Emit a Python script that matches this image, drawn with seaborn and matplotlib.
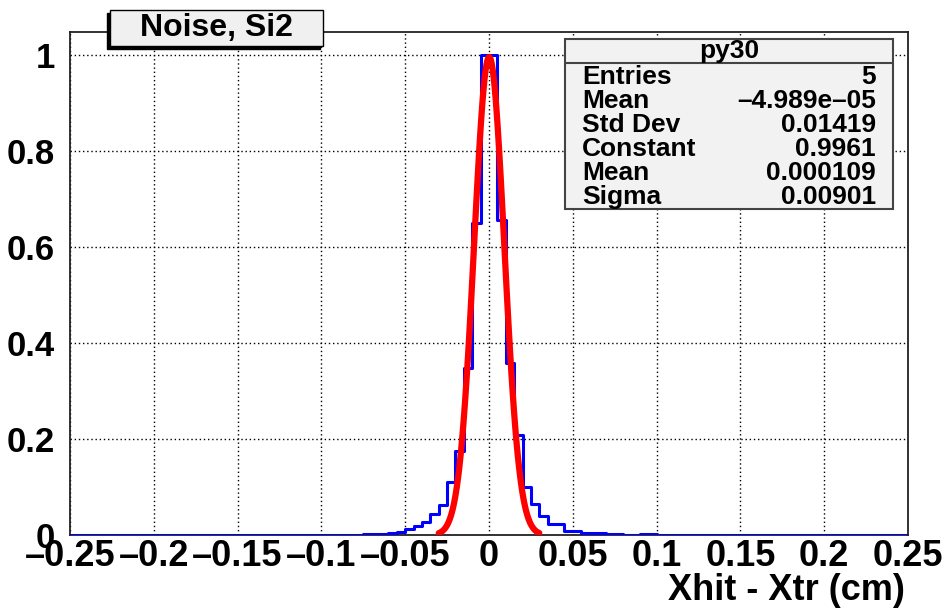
import numpy as np
import pandas as pd
import matplotlib
matplotlib.use("Agg")
import matplotlib.pyplot as plt
import seaborn as sns
from matplotlib.patches import Rectangle
from matplotlib.lines import Line2D
from matplotlib.ticker import MultipleLocator, FixedLocator, FixedFormatter

# ---------------- data ----------------
bin_width = 0.005
hist_range = (-0.25, 0.25)
bin_lo = [-0.115, -0.11, -0.105, -0.09, -0.08, -0.075, -0.07, -0.065, -0.06,
          -0.055, -0.05, -0.045, -0.04, -0.035, -0.03, -0.025, -0.02, -0.015,
          -0.01, -0.005, 0.0, 0.005, 0.01, 0.015, 0.02, 0.025, 0.03, 0.035,
          0.04, 0.045, 0.05, 0.055, 0.06, 0.065, 0.07, 0.075, 0.09, 0.095]
bin_val = [0.001, 0.001, 0.001, 0.001, 0.0005, 0.0015, 0.002, 0.003, 0.004,
           0.007, 0.012, 0.018, 0.028, 0.044, 0.062, 0.110, 0.174, 0.348,
           0.650, 1.000, 1.000, 0.656, 0.358, 0.208, 0.100, 0.064, 0.040, 0.023,
           0.023, 0.009, 0.008, 0.005, 0.004, 0.004, 0.002, 0.002, 0.003, 0.003]

fit_const = 0.9961
fit_mean = 0.000109
fit_sigma = 0.00901
fit_range = (-0.03, 0.03)

x_ticks = [-0.25, -0.2, -0.15, -0.1, -0.05, 0.0, 0.05, 0.1, 0.15, 0.2, 0.25]
x_tick_labels = ["\u20130.25", "\u20130.2", "\u20130.15", "\u20130.1", "\u20130.05",
                 "0", "0.05", "0.1", "0.15", "0.2", "0.25"]
y_ticks = [0, 0.2, 0.4, 0.6, 0.8, 1.0]
y_tick_labels = ["0", "0.2", "0.4", "0.6", "0.8", "1"]

title_text = "Noise, Si2"
x_label = "Xhit - Xtr (cm)"
stats_name = "py30"
stats_keys = ["Entries", "Mean", "Std Dev", "Constant", "Mean", "Sigma"]
stats_vals = ["5", "\u20134.989e\u201305", "0.01419", "0.9961", "0.000109", "0.00901"]

# ---------------- style ----------------
sns.set_style("white")
plt.rcParams['font.family'] = ['Liberation Sans', 'DejaVu Sans']
plt.rcParams['font.weight'] = 'bold'
plt.rcParams['text.color'] = 'black'
plt.rcParams['xtick.color'] = 'black'
plt.rcParams['ytick.color'] = 'black'
plt.rcParams['axes.labelcolor'] = 'black'

W, H = 947, 611
fig = plt.figure(figsize=(W / 100, H / 100), dpi=100)

def fx(px):
    return px / W

def fy(py):
    return 1 - py / H

ax_l, ax_r, ax_t, ax_b = 70, 908, 32, 535
ax = fig.add_axes([fx(ax_l), fy(ax_b), fx(ax_r - ax_l), (ax_b - ax_t) / H])

# histogram
df = pd.DataFrame({"x": np.array(bin_lo) + bin_width / 2, "w": bin_val})
sns.histplot(data=df, x="x", weights="w", binwidth=bin_width, binrange=hist_range,
             element="step", fill=False, color="#0000ff", linewidth=2.2, ax=ax, zorder=3)

# fit curve
fx_vals = np.linspace(fit_range[0], fit_range[1], 100)
fit_df = pd.DataFrame({"x": fx_vals,
                       "y": fit_const * np.exp(-0.5 * ((fx_vals - fit_mean) / fit_sigma) ** 2)})
sns.lineplot(data=fit_df, x="x", y="y", color="#ff0000", linewidth=4.5,
             ax=ax, zorder=4, sort=False)

ax.set_xlim(*hist_range)
ax.set_ylim(0, 1.048)
ax.set_xlabel("")
ax.set_ylabel("")

ax.xaxis.set_major_locator(FixedLocator(x_ticks))
ax.xaxis.set_major_formatter(FixedFormatter(x_tick_labels))
ax.xaxis.set_minor_locator(MultipleLocator(0.01))
ax.yaxis.set_major_locator(FixedLocator(y_ticks))
ax.yaxis.set_major_formatter(FixedFormatter(y_tick_labels))
ax.yaxis.set_minor_locator(MultipleLocator(0.05))

ax.tick_params(axis="x", which="major", direction="in", length=11, width=1.2,
               pad=3, labelsize=26, colors="black")
ax.tick_params(axis="x", which="minor", direction="in", length=6, width=1.0, colors="black")
ax.tick_params(axis="y", which="major", direction="in", length=18, width=1.2,
               pad=11, labelsize=25, colors="black")
ax.tick_params(axis="y", which="minor", direction="in", length=9, width=1.0, colors="black")
for lab in ax.get_xticklabels() + ax.get_yticklabels():
    lab.set_fontweight("bold")
    lab.set_color("black")

ax.grid(True, which="major", linestyle=(0, (1, 2)), color="black", linewidth=1.0)
ax.set_axisbelow(True)
for s in ax.spines.values():
    s.set_color("#222222")
    s.set_linewidth(1.3)
    s.set_visible(True)

fig.text(fx(ax_r - 3), fy(600), x_label, ha="right", va="baseline",
         fontsize=26, fontweight="bold", color="black")

# title box with shadow
fig.patches.append(Rectangle((fx(107), fy(49)), fx(213), 36 / H, transform=fig.transFigure,
                             facecolor="black", edgecolor="black", zorder=5))
fig.patches.append(Rectangle((fx(110), fy(46)), fx(213), 36 / H, transform=fig.transFigure,
                             facecolor="#f0f0f0", edgecolor="black", linewidth=1.0, zorder=6))
fig.text(fx(216), fy(28), title_text, ha="center", va="center", fontsize=23,
         fontweight="bold", color="black", zorder=7)

# stats box
sb_l, sb_r, sb_t, sb_b = 565, 893, 39, 209
fig.patches.append(Rectangle((fx(sb_l), fy(sb_b)), fx(sb_r - sb_l), (sb_b - sb_t) / H,
                             transform=fig.transFigure, facecolor="#f2f2f2",
                             edgecolor="#444444", linewidth=1.5, zorder=5))
fig.lines.append(Line2D([fx(sb_l), fx(sb_r)], [fy(63), fy(63)], transform=fig.transFigure,
                        color="#444444", linewidth=1.5, zorder=6))
fig.text(fx((sb_l + sb_r) / 2), fy(58), stats_name, ha="center", va="baseline",
         fontsize=19, fontweight="bold", color="black", zorder=7)
for i, (k, v) in enumerate(zip(stats_keys, stats_vals)):
    yb = 84 + 24 * i
    fig.text(fx(582), fy(yb), k, ha="left", va="baseline", fontsize=19,
             fontweight="bold", color="black", zorder=7)
    fig.text(fx(876), fy(yb), v, ha="right", va="baseline", fontsize=19,
             fontweight="bold", color="black", zorder=7)

fig.savefig("out.png", dpi=100)
